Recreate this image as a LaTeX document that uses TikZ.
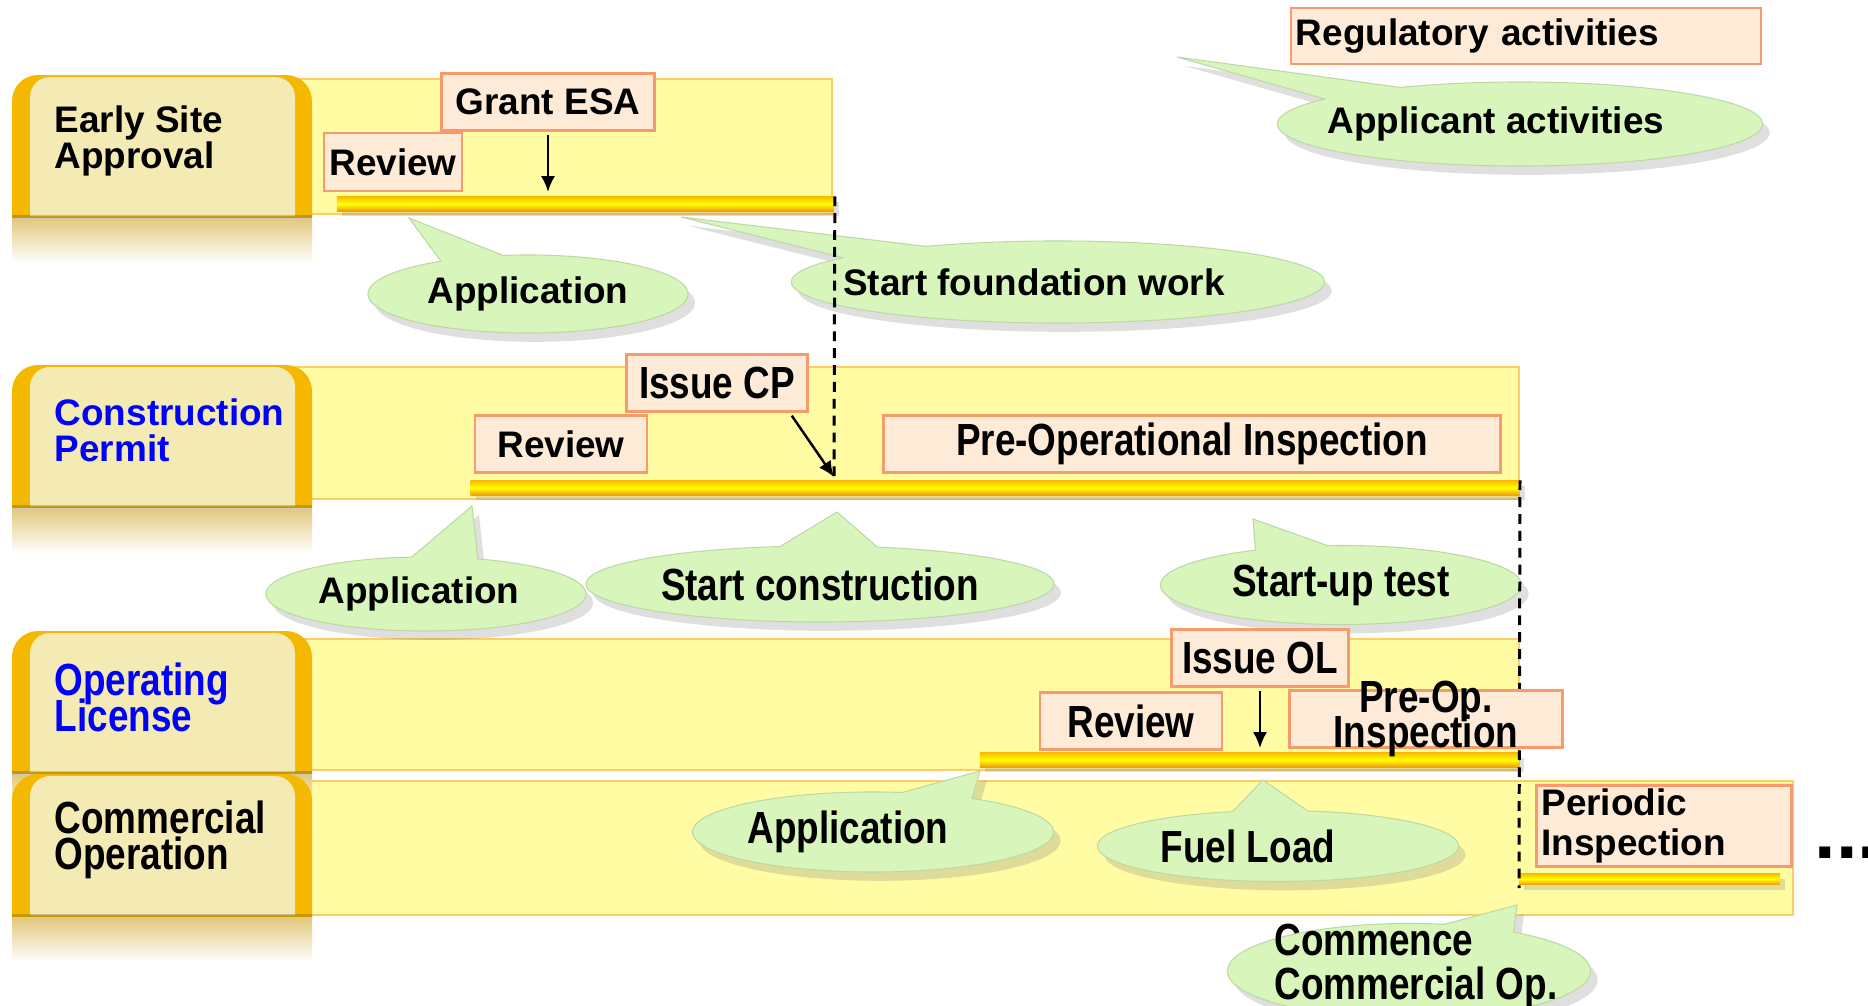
\documentclass[tikz,border=0pt]{standalone}
\usepackage{fontspec}
\setmainfont{Liberation Sans}
\newfontfamily\narrowfont[FakeStretch=0.82]{Liberation Sans}
\usepackage{xcolor}
\usepackage{tikz}
\usetikzlibrary{shapes,shapes.callouts,shadows,arrows.meta,positioning}
\definecolor{bandfill}{HTML}{FFFCA3}
\definecolor{banddraw}{HTML}{FFCC66}
\definecolor{boxfill}{HTML}{FDEBD8}
\definecolor{boxdraw}{HTML}{F79A6C}
\definecolor{callfill}{HTML}{D8F5BC}
\definecolor{tabgold}{HTML}{F5B800}
\definecolor{tabin}{HTML}{F4EBB4}
\definecolor{tabrefl}{HTML}{E3C97E}
\definecolor{bartop}{HTML}{F7C000}
\definecolor{barmid}{HTML}{FFFF00}
\definecolor{barbot}{HTML}{F29A12}
\definecolor{permitblue}{HTML}{0000FF}
\tikzset{>={Latex[length=4.5pt,width=4pt]}}
\tikzset{band/.style={fill=bandfill,draw=banddraw,line width=0.6pt},
         tab text/.style={anchor=west,align=left,inner sep=0pt,font=\bfseries\fontsize{10.5}{10.2}\selectfont},
         narrow/.style={font=\narrowfont\bfseries\fontsize{12.8}{12.5}\selectfont},
         narrow tight/.style={font={\narrowfont\bfseries\fontsize{12.8}{10.2}\selectfont\lineskiplimit=-10pt}},
         reg box/.style={rectangle,fill=boxfill,draw=boxdraw,line width=0.7pt,inner sep=0pt,
                         minimum height=0.57cm,font=\bfseries\fontsize{10.5}{10.2}\selectfont},
         app call/.style={ellipse callout,fill=callfill,draw=callfill!88!black,line width=0.3pt,
                          inner sep=0pt,callout pointer arc=24,
                          drop shadow={shadow xshift=2pt,shadow yshift=-2.5pt,opacity=0.25},
                          font=\bfseries\fontsize{10.5}{10.2}\selectfont},
         phase bar/.style={rectangle,inner sep=0pt,minimum height=0.14cm,
                           top color=bartop,bottom color=barbot,middle color=barmid,
                           drop shadow={shadow xshift=1.5pt,shadow yshift=-1.5pt,opacity=0.25}},
         mile line/.style={dashed,dash pattern=on 2.8pt off 2pt,line width=0.85pt},
         arrow line/.style={->,line width=0.7pt,shorten <=1pt},
         phase tab/.pic={
           \shade[top color=tabrefl,bottom color=white] (0,144) rectangle (300,188);
           \fill[tabgold,rounded corners=0.26cm] (0,143) -- (0,0) -- (300,0) -- (300,143);
           \fill[tabin,rounded corners=0.2cm] (18,141) -- (18,2) -- (283,2) -- (283,141);
           \fill[black,opacity=0.18] (0,140) rectangle (300,144);
         }
        }

\begin{document}
\begin{tikzpicture}[x=0.01cm,y=-0.01cm]

    \path[use as bounding box,clip] (0,0) rectangle (1868,1006);
    \fill[white] (0,0) rectangle (1868,1006);

    % phase bands
    \draw[band] (290,79) rectangle (832,214);
    \draw[band] (290,367) rectangle (1519,499);
    \draw[band] (290,639) rectangle (1519,770);
    \draw[band] (290,781) rectangle (1793,915);

    % phase tabs
    \pic at (12,75) {phase tab};
    \pic at (12,365) {phase tab};
    \pic at (12,631) {phase tab};
    \pic at (12,774) {phase tab};

    \node[tab text] (esa) at (54,141) {Early Site\\Approval};
    \node[tab text,text=permitblue] (cp) at (54,430) {Construction\\Permit};
    \node[tab text,narrow tight,text=permitblue] (ol) at (54,697) {Operating\\License};
    \node[tab text,narrow tight] (co) at (54,840) {Commercial\\Operation};

    % activity bars
    \node[phase bar,minimum width=4.97cm] (esabar) at (585.5,204) {};
    \node[phase bar,minimum width=10.48cm] (cpbar) at (995,488) {};
    \node[phase bar,minimum width=5.39cm] (olbar) at (1249.5,760) {};
    \node[phase bar,minimum width=2.61cm,minimum height=0.11cm] (cobar) at (1649.5,879) {};

    % applicant activities
    \coordinate (legpt) at (1177,57);
    \coordinate (esaapppt) at (409,218);
    \coordinate (foundpt) at (681,217);
    \coordinate (cpapppt) at (472,506);
    \coordinate (conspt) at (837,512);
    \coordinate (startuppt) at (1253,519);
    \coordinate (olapppt) at (980,771);
    \coordinate (fuelpt) at (1263,780);
    \coordinate (commpt) at (1517,905);

    \node[app call,minimum width=4.85cm,minimum height=0.84cm,callout absolute pointer=(legpt)] (appleg) at (1520,124) {\hspace*{-0.48cm}Applicant activities};
    \node[app call,minimum width=3.2cm,minimum height=0.78cm,callout absolute pointer=(esaapppt)] (esaapp) at (528,294) {Application};
    \node[app call,minimum width=5.33cm,minimum height=0.82cm,callout absolute pointer=(foundpt)] (found) at (1058,282) {\hspace*{-0.48cm}Start foundation work};
    \node[app call,minimum width=3.2cm,minimum height=0.74cm,callout absolute pointer=(cpapppt)] (cpapp) at (426,594) {\hspace*{-0.14cm}Application};
    \node[app call,narrow,minimum width=4.68cm,minimum height=0.76cm,callout absolute pointer=(conspt)] (cons) at (820,584) {Start construction};
    \node[app call,narrow,minimum width=3.61cm,minimum height=0.79cm,callout absolute pointer=(startuppt)] (startup) at (1341,585) {Start-up test};
    \node[app call,narrow,minimum width=3.61cm,minimum height=0.8cm,callout absolute pointer=(olapppt)] (olapp) at (873,832) {\hspace*{-0.5cm}Application};
    \node[app call,narrow,minimum width=3.61cm,minimum height=0.71cm,callout absolute pointer=(fuelpt)] (fuel) at (1278,846) {\hspace*{-0.6cm}Fuel Load};
    \node[app call,minimum width=3.63cm,minimum height=0.95cm,callout absolute pointer=(commpt)] (comm) at (1409,971) {};
    \node[narrow,align=left,inner sep=0pt] (commtext) at (1416,966) {Commence\\Commercial Op.};

    % milestones
    \coordinate (cpstart) at (834,477);
    \coordinate (costart) at (1519,888);
    \draw[mile line] (esabar.north east) -- (cpstart);
    \draw[mile line] (cpbar.north east) -- (costart);

    % regulatory activities
    \node[reg box,text width=4.6cm,align=left,inner xsep=0.05cm,minimum height=0.56cm] (regleg) at (1526,36) {Regulatory activities};

    \node[reg box,minimum width=2.13cm] (grantesa) at (548,102) {Grant ESA};
    \node[reg box,minimum width=1.38cm,minimum height=0.58cm] (esareview) at (393,162) {Review};

    \node[reg box,narrow,minimum width=1.81cm] (issuecp) at (717,383) {Issue CP};
    \node[reg box,minimum width=1.72cm] (cpreview) at (561,444) {Review};
    \node[reg box,narrow,minimum width=6.17cm] (cppreop) at (1192,444) {Pre-Operational Inspection};

    \node[reg box,narrow,minimum width=1.77cm] (issueol) at (1260,658) {Issue OL};
    \node[reg box,narrow,minimum width=1.82cm] (olreview) at (1131,721) {Review};
    \node[reg box,minimum width=2.73cm] (olpreop) at (1426,719) {};
    \node[narrow tight,align=center,inner sep=0pt] (olpreoptext) at (1426,719) {Pre-Op.\\Inspection};

    \node[reg box,text width=2.45cm,align=left,inner xsep=0.05cm,minimum height=0.81cm] (periodic) at (1664,826) {Periodic\\[1pt]Inspection};

    \node[anchor=base west,inner sep=0pt,font=\bfseries\fontsize{22}{22}\selectfont] (more) at (1814,858) {...};

    % decisions
    \coordinate (esagrant) at (548,192);
    \coordinate (olgrant) at (1260,748);
    \draw[arrow line] (grantesa.south) -- (esagrant);
    \draw[arrow line] ([xshift=-0.19cm]issuecp.south east) -- (cpstart);
    \draw[arrow line] (issueol.south) -- (olgrant);

\end{tikzpicture}
\end{document}
